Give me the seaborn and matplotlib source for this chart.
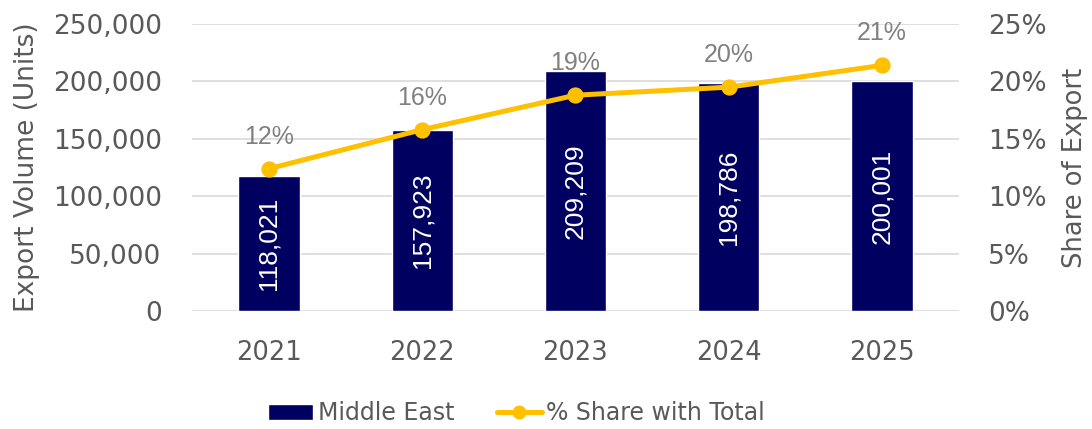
import matplotlib.pyplot as plt
import seaborn as sns
from matplotlib.lines import Line2D
from matplotlib.patches import Patch
from matplotlib.ticker import FuncFormatter

years = ["2021", "2022", "2023", "2024", "2025"]
volume = [118021, 157923, 209209, 198786, 200001]
share = [12.4, 15.8, 18.8, 19.5, 21.4]
share_labels = ["12%", "16%", "19%", "20%", "21%"]

bar_color = "#000060"
line_color = "#FFC000"
text_gray = "#595959"
label_gray = "#808080"

sns.set_style("white")
plt.rcParams["font.family"] = ["DejaVu Sans"]

fig, ax = plt.subplots(figsize=(10.92, 4.29), dpi=100)
fig.subplots_adjust(left=0.176, right=0.878, top=0.944, bottom=0.275)

sns.barplot(x=years, y=volume, color=bar_color, width=0.4, ax=ax, saturation=1)
ax.set_ylim(0, 250000)
ax.set_yticks(range(0, 250001, 50000))
ax.yaxis.set_major_formatter(FuncFormatter(lambda v, p: "{:,.0f}".format(v)))
ax.grid(axis="y", color="#d9d9d9", linewidth=1.2)
ax.set_axisbelow(True)
ax.set_ylabel("Export Volume (Units)", fontsize=19, color=text_gray, labelpad=9)
ax.set_xlabel("")
ax.tick_params(axis="y", length=0, pad=22, labelsize=19, labelcolor=text_gray)
ax.tick_params(axis="x", length=0, pad=21, labelsize=18.5, labelcolor=text_gray)

# values inside bars
ax.bar_label(ax.containers[0], labels=["{:,}".format(v) for v in volume],
             label_type="center", rotation=90, color="white", fontsize=19,
             family="Liberation Sans")

ax2 = ax.twinx()
sns.pointplot(x=years, y=share, color=line_color, ax=ax2, markers="o",
              markersize=9, linewidth=3.6)
ax2.set_ylim(0, 25)
ax2.set_yticks(range(0, 26, 5))
ax2.yaxis.set_major_formatter(FuncFormatter(lambda v, p: "{:.0f}%".format(v)))
ax2.set_ylabel("Share of Export", fontsize=18.5, color=text_gray, labelpad=11)
ax2.tick_params(axis="y", length=0, pad=21, labelsize=19, labelcolor=text_gray)
ax2.set_xlim(-0.5, 4.5)

# percentage labels above the points
for i, lab in enumerate(share_labels):
    ax2.annotate(lab, (i, share[i]), xytext=(0, 23), textcoords="offset points",
                 ha="center", va="center", fontsize=18, color=label_gray,
                 family="Liberation Sans")

for a in (ax, ax2):
    for s in a.spines.values():
        s.set_visible(False)

handles = [
    Patch(facecolor=bar_color, label="Middle East"),
    Line2D([0], [0], color=line_color, lw=3.6, marker="o", markersize=9,
           label="% Share with Total"),
]
fig.legend(handles=handles, loc="center", bbox_to_anchor=(0.473, 0.037), ncol=2,
           frameon=False, fontsize=17, labelcolor=text_gray, handlelength=1.9,
           handletextpad=0.2, columnspacing=1.8)

fig.savefig("out.png", dpi=100)
